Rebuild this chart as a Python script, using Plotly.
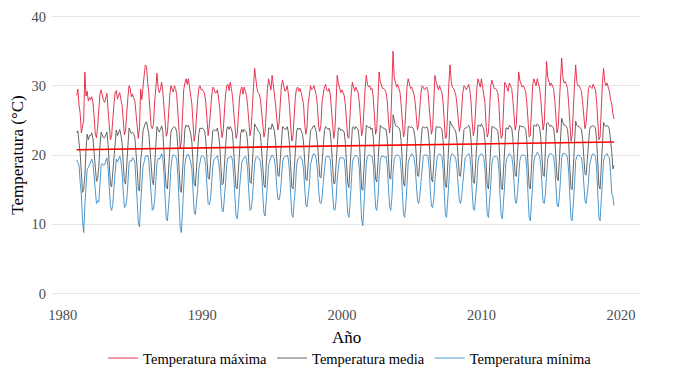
import numpy as np
import plotly.graph_objects as go

start_year = 1981
year_ticks = [1980, 1990, 2000, 2010, 2020]
temp_ticks = [0, 10, 20, 30, 40]
series_names = ["Temperatura máxima", "Temperatura media", "Temperatura mínima"]

# Monthly values, one row per year (Jan..Dec), 1981 .. Jul 2019
tmax = [
    28.6, 29.5, 27.2, 26.0, 23.2, 24.5, 25.0, 32.0, 28.5, 29.2, 27.8, 28.3,
    28.0, 28.4, 27.5, 25.5, 23.0, 22.5, 24.0, 26.5, 28.8, 29.4, 28.6, 27.9,
    27.6, 28.2, 28.9, 26.4, 24.8, 22.2, 22.8, 25.9, 27.2, 29.0, 29.3, 28.1,
    28.5, 29.0, 28.0, 27.2, 25.1, 22.9, 23.5, 27.0, 28.3, 30.0, 29.6, 28.4,
    28.8, 28.2, 27.8, 26.0, 24.2, 22.4, 24.0, 29.5, 28.0, 30.2, 31.5, 33.0,
    32.8, 30.5, 29.0, 26.4, 24.2, 23.8, 24.4, 27.5, 29.5, 31.8, 29.8, 29.0,
    29.5, 30.5, 29.2, 27.0, 23.5, 22.7, 23.2, 26.4, 28.6, 30.0, 29.4, 29.1,
    30.0, 29.6, 28.6, 26.5, 23.8, 21.0, 22.0, 26.8, 29.4, 30.4, 31.0, 30.2,
    31.0, 29.8, 28.5, 27.4, 24.6, 22.0, 23.0, 26.2, 28.0, 29.6, 30.0, 29.4,
    29.5, 29.2, 28.8, 27.6, 25.0, 22.8, 24.2, 26.6, 28.4, 29.8, 29.6, 29.0,
    29.0, 29.4, 28.3, 26.8, 24.0, 22.5, 23.6, 27.2, 28.8, 30.0, 30.2, 29.3,
    30.5, 29.6, 28.4, 26.2, 23.6, 22.4, 23.0, 26.0, 28.2, 29.4, 29.8, 28.8,
    29.8, 29.2, 28.6, 27.0, 24.4, 22.8, 23.8, 27.6, 29.8, 32.5, 30.4, 29.6,
    29.0, 28.8, 28.0, 26.4, 24.0, 22.6, 23.4, 27.0, 29.6, 31.0, 30.2, 29.4,
    31.5, 29.6, 28.8, 27.2, 24.8, 23.6, 24.6, 28.4, 30.0, 30.8, 29.8, 29.2,
    29.4, 30.0, 28.8, 27.0, 24.0, 22.0, 22.8, 26.6, 28.4, 29.6, 29.8, 29.2,
    29.6, 29.0, 28.4, 27.4, 24.6, 23.0, 24.0, 27.4, 28.6, 30.0, 29.4, 29.6,
    30.0, 29.2, 28.6, 27.0, 24.2, 23.4, 24.4, 27.8, 29.2, 29.8, 30.2, 29.4,
    29.2, 29.6, 28.8, 26.8, 24.0, 22.4, 23.6, 27.4, 31.5, 30.4, 29.6, 29.0,
    29.4, 29.0, 28.6, 27.2, 24.4, 22.6, 22.4, 26.6, 28.8, 30.5, 30.0, 29.2,
    29.8, 29.4, 29.0, 27.6, 24.2, 22.8, 23.6, 28.0, 29.6, 31.5, 30.2, 29.8,
    30.0, 29.4, 29.6, 28.2, 25.2, 23.0, 23.8, 28.2, 32.0, 30.6, 30.0, 29.6,
    29.6, 29.4, 29.0, 27.8, 25.0, 23.2, 24.6, 29.0, 35.0, 31.2, 30.4, 29.8,
    30.2, 29.6, 29.0, 27.2, 24.4, 22.6, 23.4, 27.4, 29.8, 31.0, 30.2, 29.6,
    29.8, 29.4, 28.8, 27.6, 25.0, 23.6, 24.4, 27.6, 29.0, 30.0, 29.8, 29.4,
    29.6, 29.8, 29.2, 27.4, 24.6, 23.0, 23.8, 27.8, 31.5, 30.6, 29.8, 29.4,
    30.0, 29.4, 29.0, 27.6, 24.2, 22.4, 22.6, 27.4, 30.4, 33.0, 30.6, 29.8,
    29.6, 29.2, 28.6, 27.2, 24.6, 23.4, 24.2, 27.6, 29.0, 30.0, 29.8, 29.4,
    29.8, 30.2, 29.4, 27.8, 24.8, 22.8, 23.6, 27.8, 29.6, 31.0, 30.4, 29.8,
    31.0, 30.0, 29.2, 27.6, 24.2, 22.6, 23.2, 27.8, 30.0, 30.8, 30.2, 29.6,
    29.6, 29.4, 29.0, 27.4, 24.0, 22.4, 22.8, 27.2, 30.5, 30.2, 29.6, 29.2,
    30.4, 30.0, 29.6, 28.0, 25.2, 23.6, 24.4, 28.4, 32.0, 30.8, 30.2, 29.8,
    30.0, 29.6, 29.2, 27.6, 24.4, 22.6, 22.8, 27.6, 30.0, 31.0, 30.4, 30.0,
    31.0, 30.4, 29.6, 28.0, 25.0, 23.6, 24.6, 28.6, 33.5, 31.2, 30.4, 30.0,
    30.4, 30.0, 29.6, 28.0, 25.0, 23.2, 24.0, 28.4, 31.0, 34.0, 31.2, 30.4,
    30.6, 30.2, 29.6, 27.4, 23.6, 22.0, 22.8, 27.6, 30.2, 33.0, 30.6, 30.0,
    30.0, 29.6, 29.2, 27.6, 25.0, 23.8, 24.6, 28.0, 29.6, 30.0, 29.8, 29.6,
    30.2, 29.8, 29.4, 27.8, 24.2, 22.2, 22.6, 27.6, 30.4, 32.5, 30.6, 30.0,
    30.4, 29.8, 29.2, 28.0, 27.4, 26.0, 25.2,
]

tmean = [
    23.2, 23.5, 21.8, 20.2, 17.4, 14.6, 15.0, 17.0, 20.8, 23.0, 22.2, 22.8,
    22.8, 23.2, 22.3, 20.5, 18.0, 16.2, 16.6, 18.3, 21.3, 23.3, 22.9, 22.5,
    22.5, 22.9, 23.3, 21.5, 19.1, 15.8, 15.4, 17.5, 20.3, 22.7, 23.6, 22.8,
    23.2, 23.7, 22.9, 21.8, 18.9, 16.2, 15.8, 18.8, 21.1, 23.9, 23.5, 23.1,
    23.3, 23.1, 22.5, 20.7, 18.1, 15.0, 14.8, 19.1, 20.7, 23.5, 24.1, 24.6,
    24.8, 23.9, 23.1, 20.9, 18.3, 16.3, 15.7, 18.7, 21.7, 24.1, 23.7, 23.3,
    23.7, 24.2, 23.5, 21.3, 17.7, 15.3, 15.1, 17.9, 20.9, 23.3, 23.8, 23.9,
    24.1, 23.9, 23.3, 21.1, 17.3, 14.9, 14.6, 18.3, 21.3, 23.7, 24.3, 24.1,
    24.3, 23.7, 23.1, 21.9, 18.9, 15.9, 15.5, 18.1, 20.5, 23.1, 23.9, 23.8,
    23.9, 23.7, 23.5, 22.1, 19.5, 16.7, 16.5, 18.7, 21.1, 23.5, 23.7, 23.5,
    23.5, 23.9, 22.9, 21.4, 18.3, 15.7, 15.9, 18.9, 21.5, 23.7, 24.1, 23.7,
    24.1, 23.8, 23.1, 20.9, 17.9, 15.3, 15.1, 17.9, 20.7, 23.1, 23.7, 23.3,
    23.7, 23.5, 23.3, 21.7, 18.7, 16.1, 15.9, 19.1, 21.9, 24.5, 24.1, 23.9,
    23.5, 23.3, 22.9, 21.1, 18.3, 15.7, 15.3, 18.7, 21.7, 23.9, 23.9, 23.7,
    24.5, 23.9, 23.5, 21.9, 19.3, 17.1, 16.9, 19.7, 22.1, 24.1, 23.9, 23.7,
    23.7, 24.1, 23.3, 21.5, 18.3, 15.3, 15.1, 18.3, 20.9, 23.3, 23.9, 23.7,
    23.9, 23.5, 23.1, 21.9, 19.1, 16.5, 16.3, 19.1, 21.1, 23.5, 23.7, 24.1,
    24.3, 23.9, 23.3, 21.7, 18.9, 16.9, 16.7, 19.3, 21.5, 23.5, 24.1, 23.9,
    23.7, 23.9, 23.3, 21.3, 18.5, 15.9, 15.9, 18.9, 22.5, 23.9, 23.9, 23.5,
    23.7, 23.5, 23.3, 21.7, 18.7, 15.9, 15.3, 18.5, 21.3, 23.9, 24.1, 23.7,
    24.1, 23.9, 23.7, 22.1, 18.3, 15.1, 14.9, 18.7, 21.7, 24.3, 24.1, 23.9,
    24.1, 23.7, 23.9, 22.5, 19.7, 16.5, 16.1, 19.5, 23.1, 24.3, 24.1, 23.9,
    23.9, 23.7, 23.7, 22.3, 19.5, 16.7, 16.5, 19.9, 25.8, 24.7, 24.3, 24.1,
    24.1, 23.9, 23.5, 21.9, 18.7, 15.9, 15.5, 18.9, 21.7, 24.1, 24.1, 23.9,
    24.1, 23.9, 23.5, 22.3, 19.7, 17.1, 16.9, 19.5, 21.7, 23.9, 24.1, 23.9,
    23.9, 24.1, 23.7, 22.1, 19.1, 16.5, 16.1, 19.3, 22.9, 24.1, 24.1, 23.9,
    24.1, 23.9, 23.7, 22.1, 18.5, 15.5, 15.3, 18.9, 22.1, 24.9, 24.5, 24.1,
    23.9, 23.7, 23.3, 21.9, 19.3, 17.1, 16.9, 19.3, 21.5, 23.7, 23.9, 23.9,
    24.1, 24.3, 23.9, 22.3, 19.1, 16.1, 15.9, 19.3, 21.9, 24.3, 24.3, 24.1,
    24.5, 24.1, 23.7, 22.1, 18.5, 15.5, 15.1, 18.9, 21.9, 24.1, 24.1, 23.9,
    23.9, 23.7, 23.5, 21.9, 18.3, 15.3, 15.0, 18.7, 22.1, 23.9, 23.9, 23.7,
    24.3, 24.1, 23.9, 22.5, 19.7, 17.1, 16.9, 19.9, 23.3, 24.3, 24.1, 24.1,
    24.1, 23.9, 23.7, 22.1, 18.7, 15.5, 15.1, 18.9, 21.9, 24.3, 24.3, 24.1,
    24.5, 24.3, 23.9, 22.5, 19.7, 17.1, 16.9, 20.1, 24.5, 24.7, 24.3, 24.1,
    24.3, 24.1, 23.9, 22.5, 19.5, 16.7, 16.3, 19.7, 22.5, 25.3, 24.7, 24.3,
    24.3, 24.1, 23.7, 21.9, 18.1, 15.2, 15.0, 18.9, 21.9, 24.9, 24.3, 24.1,
    24.1, 23.9, 23.7, 22.3, 19.7, 17.3, 17.1, 19.7, 21.7, 23.7, 24.1, 24.1,
    24.3, 24.1, 23.9, 22.3, 18.7, 15.5, 15.1, 19.1, 22.1, 24.7, 24.3, 24.1,
    24.3, 24.1, 23.7, 22.3, 20.5, 18.0, 18.5,
]

tmin = [
    19.3, 19.0, 18.5, 16.0, 14.2, 10.5, 8.8, 12.8, 14.8, 18.0, 18.2, 18.6,
    19.0, 19.4, 18.8, 16.9, 14.6, 13.0, 13.4, 13.2, 15.8, 18.6, 18.8, 18.5,
    18.6, 19.1, 19.6, 18.0, 15.0, 12.6, 12.0, 12.8, 15.2, 17.9, 19.4, 19.0,
    19.4, 19.8, 19.2, 17.6, 14.8, 12.4, 12.6, 13.5, 15.9, 18.8, 19.2, 19.1,
    19.6, 19.5, 18.9, 16.8, 13.4, 10.2, 9.6, 13.0, 15.1, 18.4, 19.0, 19.8,
    19.8, 20.0, 19.2, 17.0, 14.0, 12.0, 12.2, 13.4, 16.2, 18.9, 19.5, 19.4,
    19.7, 20.2, 19.6, 17.5, 13.8, 10.8, 10.5, 12.6, 15.0, 18.2, 19.6, 20.0,
    20.0, 19.8, 19.4, 17.0, 13.0, 9.5, 8.8, 12.5, 15.4, 18.6, 19.6, 20.0,
    20.1, 19.6, 19.0, 18.0, 15.0, 11.8, 11.4, 12.8, 15.0, 18.0, 19.2, 19.8,
    19.9, 19.7, 19.6, 18.2, 15.6, 13.0, 12.8, 13.6, 15.8, 18.4, 19.3, 19.5,
    19.6, 19.9, 19.0, 17.4, 14.4, 12.0, 11.8, 13.4, 16.0, 18.6, 19.6, 19.6,
    19.8, 19.8, 19.2, 17.0, 14.0, 11.2, 10.8, 12.4, 15.2, 18.0, 19.0, 19.4,
    19.6, 19.8, 19.4, 17.8, 14.6, 12.0, 12.2, 13.6, 16.2, 18.8, 19.6, 19.8,
    19.6, 19.5, 19.0, 17.4, 14.2, 11.6, 11.2, 13.0, 15.8, 18.6, 19.4, 19.7,
    20.0, 19.8, 19.4, 18.0, 15.4, 13.6, 13.5, 14.4, 16.4, 19.0, 19.6, 19.8,
    19.8, 20.0, 19.4, 17.6, 14.2, 11.4, 11.0, 12.8, 15.4, 18.4, 19.4, 19.6,
    19.8, 19.6, 19.2, 18.0, 15.2, 12.8, 12.5, 13.8, 15.6, 18.6, 19.6, 20.0,
    20.2, 20.0, 19.4, 17.8, 15.0, 13.2, 13.0, 14.0, 16.0, 18.6, 19.6, 19.8,
    19.8, 19.8, 19.4, 17.4, 14.6, 12.2, 12.0, 13.4, 16.6, 18.8, 19.6, 19.6,
    19.6, 19.6, 19.4, 17.8, 14.6, 11.6, 11.0, 12.8, 15.8, 18.8, 19.6, 19.8,
    20.0, 19.8, 19.6, 18.0, 13.8, 10.6, 9.8, 12.8, 15.8, 18.8, 19.8, 20.0,
    20.0, 19.8, 19.8, 18.6, 15.6, 12.4, 12.0, 13.8, 16.8, 19.2, 19.8, 19.8,
    19.8, 19.6, 19.8, 18.4, 15.4, 12.6, 12.0, 13.8, 17.6, 19.4, 19.8, 20.0,
    20.0, 19.8, 19.6, 17.8, 14.4, 11.4, 11.0, 12.8, 15.8, 18.8, 19.6, 19.8,
    20.2, 20.0, 19.6, 18.4, 15.8, 13.4, 13.0, 14.0, 16.2, 18.8, 19.8, 20.0,
    20.0, 20.0, 19.8, 18.2, 15.0, 12.6, 12.4, 13.6, 16.4, 18.8, 19.8, 20.0,
    20.2, 20.0, 19.8, 18.0, 14.2, 11.4, 11.0, 13.0, 16.0, 19.0, 20.0, 20.2,
    20.0, 19.8, 19.4, 18.0, 15.6, 13.4, 13.0, 14.0, 16.0, 18.6, 19.6, 19.8,
    20.0, 20.2, 19.8, 18.2, 14.8, 12.2, 12.0, 13.6, 16.0, 19.0, 19.8, 20.0,
    20.2, 20.0, 19.6, 18.0, 14.2, 11.4, 11.0, 13.0, 15.8, 18.8, 19.6, 19.8,
    19.8, 19.8, 19.6, 17.8, 14.0, 11.2, 10.8, 12.8, 15.8, 18.8, 19.6, 19.8,
    20.2, 20.0, 19.8, 18.6, 15.8, 13.4, 13.0, 14.4, 16.8, 19.2, 19.8, 20.0,
    20.0, 20.0, 19.8, 18.0, 14.4, 11.0, 10.5, 12.8, 15.8, 19.0, 19.8, 20.0,
    20.4, 20.2, 19.8, 18.6, 15.6, 13.2, 13.0, 14.4, 17.2, 19.4, 20.0, 20.2,
    20.2, 20.0, 19.8, 18.4, 15.4, 12.8, 12.5, 14.0, 16.6, 19.6, 20.2, 20.2,
    20.2, 20.0, 19.6, 17.6, 13.6, 10.8, 10.5, 12.8, 15.6, 19.2, 19.8, 20.0,
    20.0, 19.8, 19.6, 18.4, 15.8, 13.4, 13.0, 14.2, 16.0, 18.6, 19.6, 20.0,
    20.2, 20.0, 19.8, 18.2, 14.2, 11.0, 10.5, 13.0, 16.0, 19.2, 19.8, 20.0,
    20.2, 19.8, 19.6, 17.6, 14.4, 14.0, 12.7,
]

colors = ["#E2233F", "#555555", "#3A8BC6"]
trend_color = "#FF0000"

t = np.array([start_year + i / 12 for i in range(len(tmean))])
slope, intercept = np.polyfit(t, np.array(tmean), 1)
t_fit = np.array([t[0], t[-1]])

fig = go.Figure()
for vals, name, col in zip([tmax, tmean, tmin], series_names, colors):
    fig.add_trace(go.Scatter(x=t, y=vals, mode="lines", name=name,
                             line=dict(color=col, width=0.9)))
fig.add_trace(go.Scatter(x=t_fit, y=slope * t_fit + intercept, mode="lines",
                         line=dict(color=trend_color, width=1.6), showlegend=False,
                         hoverinfo="skip"))

ff = "Liberation Serif"
W, H = 667, 367  # page adds an 8px body margin
fig.update_layout(
    width=W, height=H,
    margin=dict(l=44, r=35, t=5, b=78, autoexpand=False),
    paper_bgcolor="white", plot_bgcolor="white",
    font=dict(family=ff, color="#000000"),
    showlegend=True,
    legend=dict(orientation="h", x=0.507, xanchor="center",
                yref="container", y=0.046, yanchor="middle",
                font=dict(family=ff, size=14.5, color="#000000"), itemwidth=30,
                tracegroupgap=0),
    annotations=[dict(text="Año", xref="paper", yref="paper", x=0.5, y=-0.144,
                      xanchor="center", yanchor="middle", showarrow=False,
                      font=dict(family=ff, size=17, color="#000000"))],
)
fig.update_xaxes(
    range=[1979.23, 2021.36], tickvals=year_ticks, ticktext=[str(v) for v in year_ticks],
    showgrid=False, zeroline=False, showline=False,
    ticks="outside", ticklen=5, tickcolor="rgba(0,0,0,0)", automargin=False,
    tickfont=dict(family=ff, size=14.5, color="#4D4D4D"),
)
fig.update_yaxes(
    range=[-0.5, 40.5], tickvals=temp_ticks, showgrid=True, gridcolor="#E5E5E5",
    gridwidth=1, zeroline=False, showline=False,
    ticks="outside", ticklen=2, tickcolor="rgba(0,0,0,0)", automargin=False,
    tickfont=dict(family=ff, size=14.5, color="#4D4D4D"),
    title=dict(text="Temperatura (°C)", font=dict(family=ff, size=17, color="#000000"), standoff=9),
)

fig.write_html("out.html")
